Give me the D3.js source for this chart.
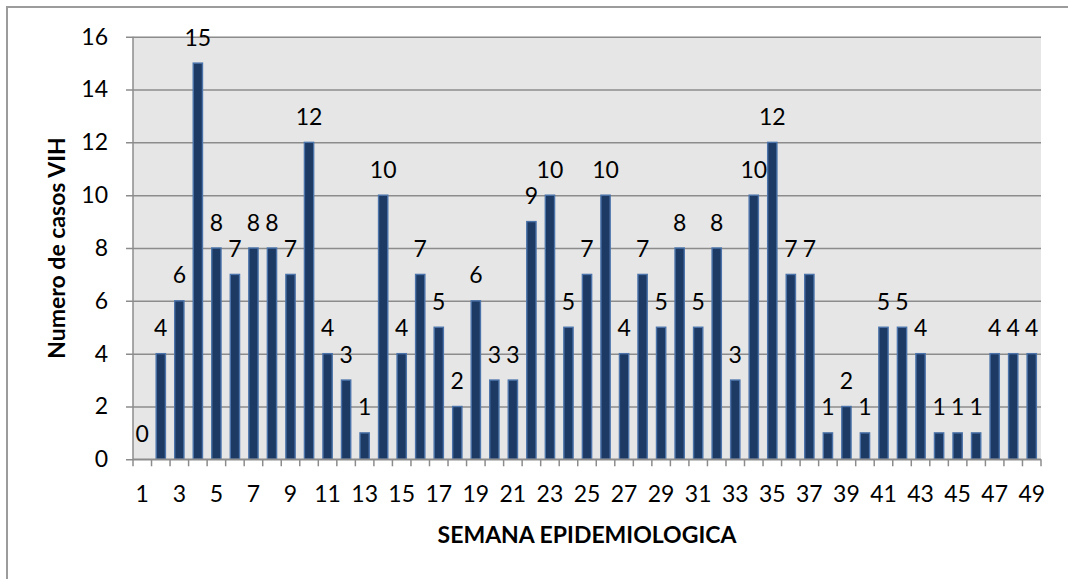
<!DOCTYPE html>
<html>
<head>
<meta charset="utf-8">
<script src="https://cdn.jsdelivr.net/npm/d3@7"></script>
<style>
  body { margin: 0; background: #fff; }
  text { font-family: Lato, "Open Sans", sans-serif; fill: #000; }
</style>
</head>
<body>
<svg id="graph" width="1068" height="579"></svg>
<script>
const weeks = d3.range(1, 50)

const cases = [0, 4, 6, 15, 8, 7, 8, 8, 7, 12,
  4, 3, 1, 10, 4, 7, 5, 2, 6, 3,
  3, 9, 10, 5, 7, 10, 4, 7, 5, 8,
  5, 8, 3, 10, 12, 7, 7, 1, 2, 1,
  5, 5, 4, 1, 1, 1, 4, 4, 4]

const y_ticks = [0, 2, 4, 6, 8, 10, 12, 14, 16]
const x_labels = weeks.filter(w => w % 2 == 1)

const x_title = "SEMANA EPIDEMIOLOGICA"
const y_title = "Numero de casos VIH"

const plot = { left: 133, right: 1041, top: 36.7, bottom: 459.3 }

const svg = d3.select("#graph")

// outer chart border (runs off the right and bottom edge)
svg.append("rect")
  .attr("x", 7).attr("y", 7)
  .attr("width", 1100).attr("height", 600)
  .attr("fill", "none")
  .attr("stroke", "#9c9c9c")
  .attr("stroke-width", 2)

const x = d3.scaleBand()
  .domain(weeks)
  .range([plot.left, plot.right])
  .padding(0)

const y = d3.scaleLinear()
  .domain([0, 16])
  .range([plot.bottom, plot.top])

// plot background
svg.append("rect")
  .attr("x", plot.left).attr("y", plot.top)
  .attr("width", plot.right - plot.left)
  .attr("height", plot.bottom - plot.top)
  .attr("fill", "#e6e6e6")

// y axis with gridlines
const y_axis = svg.append("g")
  .attr("transform", `translate(${plot.left},0)`)
  .call(d3.axisLeft(y).tickValues(y_ticks).tickSize(7).tickPadding(18))
y_axis.select(".domain").remove()
y_axis.selectAll(".tick line")
  .attr("x2", plot.right - plot.left)
  .attr("x1", -7)
  .attr("stroke", "#8c8c8c")
  .attr("stroke-width", 1.5)
y_axis.selectAll(".tick text")
  .attr("font-size", 23)
  .attr("font-family", "Lato, sans-serif")

// left axis line
svg.append("line")
  .attr("x1", plot.left).attr("x2", plot.left)
  .attr("y1", plot.top).attr("y2", plot.bottom)
  .attr("stroke", "#8c8c8c")
  .attr("stroke-width", 1.5)

// bars
const bar_w = x.bandwidth() * 0.5
svg.selectAll(".bar")
  .data(weeks)
  .enter()
  .append("rect")
  .attr("class", "bar")
  .attr("x", w => x(w) + (x.bandwidth() - bar_w) / 2)
  .attr("y", (w, i) => y(cases[i]))
  .attr("width", bar_w)
  .attr("height", (w, i) => y(0) - y(cases[i]))
  .attr("fill", "#1d3a64")
  .attr("stroke", "#4c74aa")
  .attr("stroke-width", 1.4)

// x axis: labels on odd weeks, ticks on the slot boundaries
const x_axis = svg.append("g")
  .attr("transform", `translate(0,${plot.bottom})`)
  .call(d3.axisBottom(x).tickValues(x_labels).tickSize(0).tickPadding(26))
x_axis.select(".domain").remove()
x_axis.selectAll(".tick text")
  .attr("font-size", 23)
  .attr("font-family", "Lato, sans-serif")

const bounds = weeks.map(w => x(w)).concat([x(weeks[weeks.length - 1]) + x.bandwidth()])
svg.selectAll(".xtick")
  .data(bounds)
  .enter()
  .append("line")
  .attr("class", "xtick")
  .attr("x1", d => d).attr("x2", d => d)
  .attr("y1", plot.bottom).attr("y2", plot.bottom + 7)
  .attr("stroke", "#8c8c8c")
  .attr("stroke-width", 1.5)

svg.append("line")
  .attr("x1", plot.left).attr("x2", plot.right)
  .attr("y1", plot.bottom).attr("y2", plot.bottom)
  .attr("stroke", "#8c8c8c")
  .attr("stroke-width", 1.5)

// data labels
svg.selectAll(".label")
  .data(weeks)
  .enter()
  .append("text")
  .attr("class", "label")
  .attr("x", w => x(w) + x.bandwidth() / 2)
  .attr("y", (w, i) => y(cases[i]) - 17.5)
  .attr("text-anchor", "middle")
  .attr("font-size", 23)
  .text((w, i) => cases[i])

// axis titles
svg.append("text")
  .attr("x", (plot.left + plot.right) / 2)
  .attr("y", 543)
  .attr("text-anchor", "middle")
  .attr("font-size", 23)
  .attr("font-weight", "bold")
  .text(x_title)

svg.append("text")
  .attr("transform", `translate(65,${(plot.top + plot.bottom) / 2}) rotate(-90)`)
  .attr("text-anchor", "middle")
  .attr("font-size", 23)
  .attr("font-weight", "bold")
  .text(y_title)
</script>
</body>
</html>
